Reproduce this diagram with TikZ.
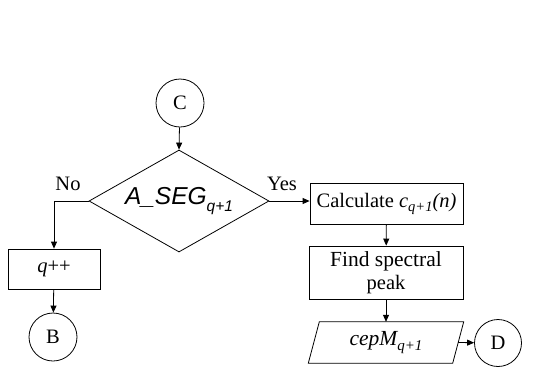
\documentclass[tikz,border=0pt]{standalone}
\usepackage{fontspec}
\setmainfont{Liberation Serif}
\newfontfamily\arialfont{Liberation Sans}
\usetikzlibrary{shapes.geometric,arrows.meta}
\begin{document}
\begin{tikzpicture}[x=1pt,y=-1pt,
  every node/.style={font=\fontsize{20.5}{23}\selectfont},
  line/.style={line width=0.8pt},
  arr/.style={line width=0.8pt,-{Triangle[length=7pt,width=6pt]}},
  conn/.style={circle,draw,line width=0.8pt,minimum size=48pt,inner sep=0pt},
  procbox/.style={rectangle,draw,line width=0.8pt,inner sep=0pt,align=center}]
\useasboundingbox (0,0) rectangle (537,368);
\node[conn] (C) at (180,103) {C};
\node[diamond,draw,line width=0.8pt,minimum width=180pt,minimum height=102pt,inner sep=0pt,aspect=1.76] (d) at (179,201)
  {\arialfont\fontsize{24.5}{26}\selectfont\itshape A\_SEG\raisebox{-0.25em}{\fontsize{15.5}{16}\selectfont q+1}};
\node[procbox,minimum width=92pt,minimum height=40pt] (q) at (54,269) {\itshape q\upshape++};
\node[conn] (B) at (53,337) {B};
\node[procbox,minimum width=153pt,minimum height=41pt] (calc) at (386.5,203.5)
  {Calculate \itshape c\raisebox{-0.2em}{\fontsize{14.5}{15}\selectfont q+1}(n)};
\node[procbox,minimum width=154pt,minimum height=53pt] (find) at (386,272.5)
  {\fontsize{21.5}{24}\selectfont Find spectral\\peak};
\node[inner sep=0pt,minimum width=144pt,minimum height=41pt] (p) at (386,342.5)
  {\fontsize{21.5}{24}\selectfont\itshape cepM\raisebox{-0.2em}{\fontsize{15}{16}\selectfont q+1}};
\draw[line] ([xshift=5.5pt]p.north west) -- ([xshift=5.5pt]p.north east)
  -- ([xshift=-5.5pt]p.south east) -- ([xshift=-5.5pt]p.south west) -- cycle;
\node[conn,minimum size=47pt] (D) at (498,343) {D};
\node (no) at (68,184) {No};
\node (yes) at (282,184) {Yes};
\draw[arr] (C) -- (d.north);
\draw[arr] (d.west) -| (q.north);
\draw[arr] (q) -- (B);
\draw[arr] (d.east) -- (d.east -| calc.west);
\draw[arr] (calc) -- (find);
\draw[arr] (find) -- (p);
\draw[arr] (p.east) -- (D);
\end{tikzpicture}
\end{document}
